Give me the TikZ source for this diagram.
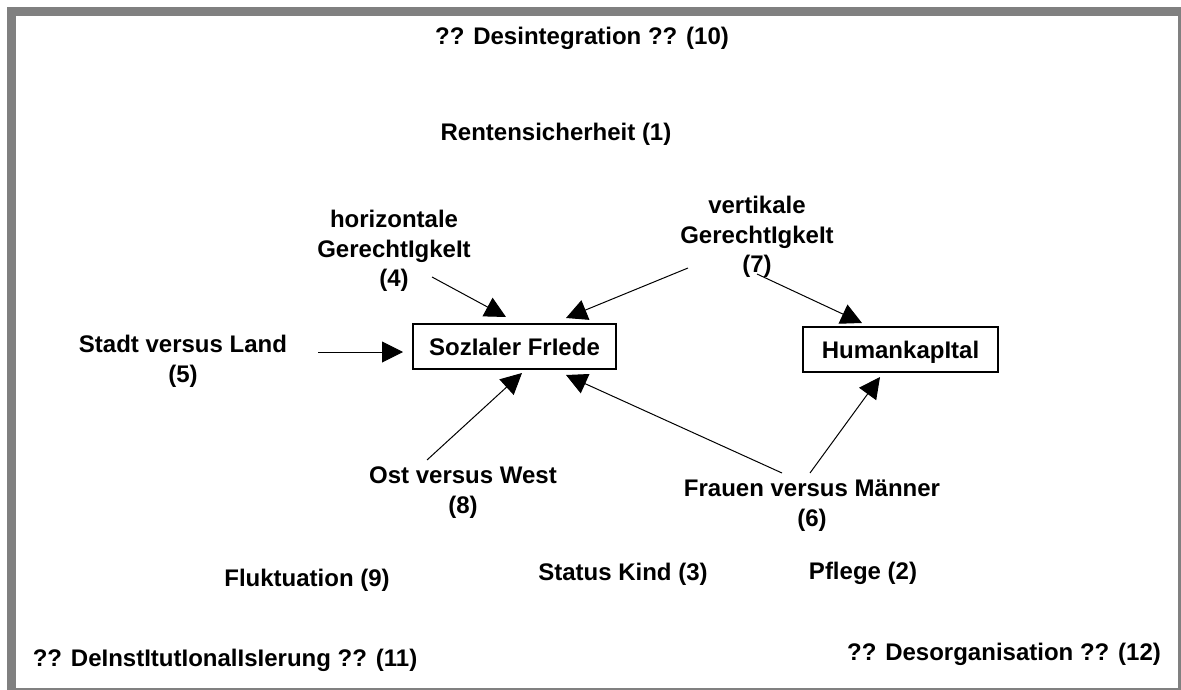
\documentclass[tikz,border=0pt]{standalone}
\usepackage{fontspec}
\setmainfont{Liberation Sans}
\usetikzlibrary{arrows.meta}
\begin{document}
\begin{tikzpicture}[x=1pt,y=-1pt,
  lbl/.style={anchor=north,inner sep=0pt,align=center,font=\fontsize{24}{29.5}\selectfont\bfseries},
  box/.style={draw=black,line width=1.2pt,inner sep=0pt,font=\fontsize{24}{29.5}\selectfont\bfseries,minimum height=45pt,text depth=0pt},
  arr/.style={draw=black,line width=1pt,-{Triangle[length=21pt,width=21pt]}}]
\useasboundingbox (0,0) rectangle (1181,690);
% frame
\fill[gray!50!black!0, fill={rgb,255:red,128;green,128;blue,128}] (7,7) rectangle (1181,690);
\fill[white] (16,16) rectangle (1178,688);
% boxes
\node[box,minimum width=203pt] (sf) at (514.5,346.5) {SozIaler FrIede};
\node[box,minimum width=195pt] (hk) at (900.5,349.5) {HumankapItal};
% labels
\node[lbl] (l10) at (582,27) {?? Desintegration ?? (10)};
\node[lbl] (l1) at (556,123) {Rentensicherheit (1)};
\node[lbl] (l4) at (394,210) {horizontale\\GerechtIgkeIt\\(4)};
\node[lbl] (l7) at (757,196) {vertikale\\GerechtIgkeIt\\(7)};
\node[lbl] (l5) at (183,335) {Stadt versus Land\\(5)};
\node[lbl] (l8) at (463,467) {Ost versus West\\(8)};
\node[lbl] (l6) at (812,480) {Frauen versus Männer\\(6)};
\node[lbl] (l9) at (307,569) {Fluktuation (9)};
\node[lbl] (l3) at (623,563) {Status Kind (3)};
\node[lbl] (l2) at (863,562) {Pflege (2)};
\node[lbl] (l11) at (225,649) {?? DeInstItutIonalIsIerung ?? (11)};
\node[lbl] (l12) at (1004,643) {?? Desorganisation ?? (12)};
% connector ends
\coordinate (s5) at (318,352);  \coordinate (t5) at (403,352);
\coordinate (s4) at (432,277);  \coordinate (t4) at (506,317);
\coordinate (s7a) at (688,268); \coordinate (t7a) at (566,318);
\coordinate (s7b) at (757,274); \coordinate (t7b) at (862,323);
\coordinate (s8) at (427,460);  \coordinate (t8) at (522,373);
\coordinate (s6a) at (782,473); \coordinate (t6a) at (566,375);
\coordinate (s6b) at (810,473); \coordinate (t6b) at (880,377);
% connectors
\draw[arr] (s5) -- (t5);
\draw[arr] (s4) -- (t4);
\draw[arr] (s7a) -- (t7a);
\draw[arr] (s7b) -- (t7b);
\draw[arr] (s8) -- (t8);
\draw[arr] (s6a) -- (t6a);
\draw[arr] (s6b) -- (t6b);
\end{tikzpicture}
\end{document}
